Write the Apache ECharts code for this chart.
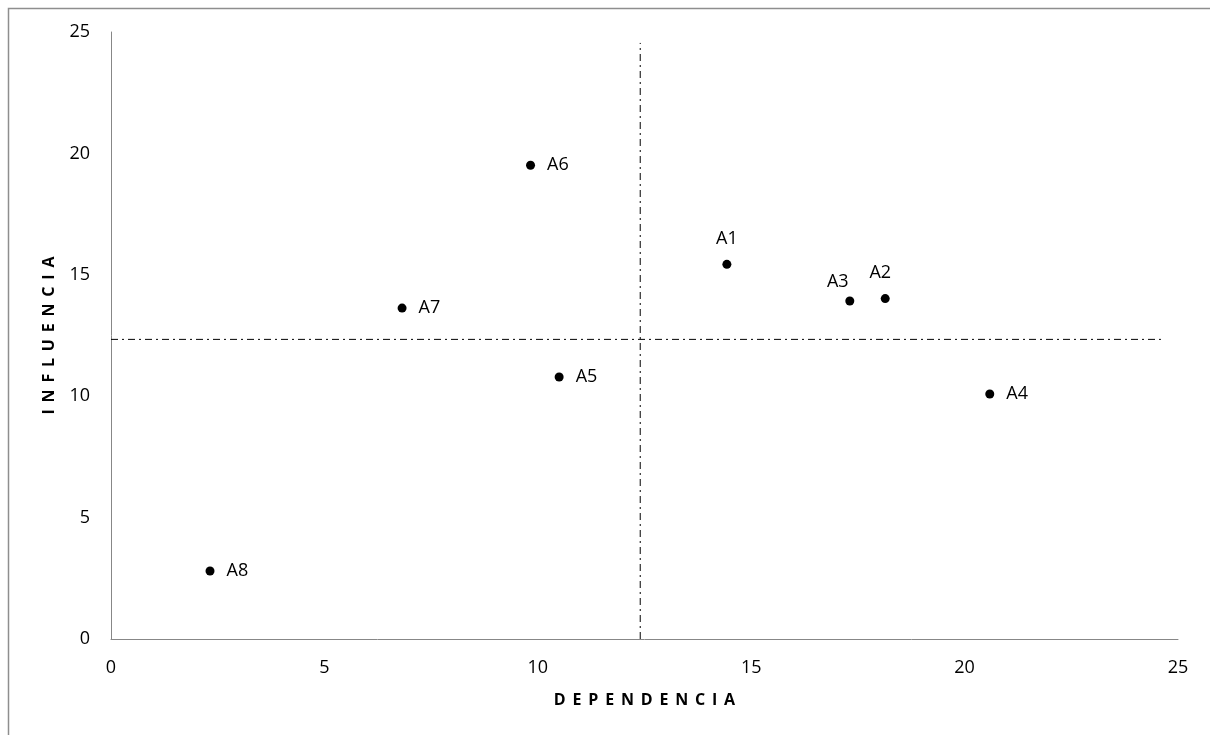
<!DOCTYPE html>
<html>
<head>
<meta charset="utf-8">
<script src="https://cdn.jsdelivr.net/npm/echarts@6/dist/echarts.min.js"></script>
<style>
html,body{margin:0;padding:0;background:#fff;}
#chart{width:1210px;height:735px;}
</style>
</head>
<body>
<div id="chart"></div>
<script>
// Data
const names = ['A1','A2','A3','A4','A5','A6','A7','A8'];
const xVals = [14.43, 18.14, 17.31, 20.59, 10.50, 9.83, 6.82, 2.32];
const yVals = [15.43, 14.02, 13.92, 10.09, 10.79, 19.51, 13.63, 2.80];
const labelPos = ['top','top','top','right','right','right','right','right'];
const labelShift = [[0,0],[-5,0],[-12,6],[0,0],[0,0],[0,0],[0,0],[0,0]];
// Reference (dash-dot) lines
const vLineX = [12.4, 12.4];
const vLineY = [0, 24.55];
const hLineX = [0, 24.6];
const hLineY = [12.34, 12.34];
const xTicks = [0,5,10,15,20,25];
const yTicks = [0,5,10,15,20,25];
const xTitle = 'DEPENDENCIA';
const yTitle = 'INFLUENCIA';

const FONT = '"Open Sans", "Noto Sans", sans-serif';
const spaced = s => s.split('').join(' \u2009');

const pts = names.map((n,i)=>({
  name:n,
  value:[xVals[i], yVals[i]],
  label:{position:labelPos[i], offset:labelShift[i]}
}));

const chart = echarts.init(document.getElementById('chart'), null, {renderer:'canvas'});
chart.setOption({
  animation:false,
  backgroundColor:'#fff',
  graphic:[{
    type:'rect', left:6, top:6,
    shape:{x:0,y:0,width:1260,height:800},
    style:{fill:'none', stroke:'#8e8e8e', lineWidth:1.5},
    silent:true
  }],
  grid:{left:111, top:32, right:32, bottom:96},
  xAxis:{
    type:'value', min:xTicks[0], max:xTicks[xTicks.length-1], interval:5,
    axisLine:{show:true, lineStyle:{color:'#878787', width:1}},
    axisTick:{show:false},
    splitLine:{show:false},
    axisLabel:{color:'#000', fontSize:18, fontFamily:FONT, margin:20},
    name:spaced(xTitle),
    nameLocation:'middle', nameGap:53,
    nameTextStyle:{color:'#000', fontSize:16, fontWeight:'bold', fontFamily:FONT}
  },
  yAxis:{
    type:'value', min:yTicks[0], max:yTicks[yTicks.length-1], interval:5,
    axisLine:{show:true, lineStyle:{color:'#878787', width:1}},
    axisTick:{show:false},
    splitLine:{show:false},
    axisLabel:{color:'#000', fontSize:18, fontFamily:FONT, margin:21},
    name:spaced(yTitle),
    nameLocation:'middle', nameGap:54,
    nameTextStyle:{color:'#000', fontSize:16, fontWeight:'bold', fontFamily:FONT}
  },
  series:[
    {
      type:'line', data:vLineX.map((x,i)=>[x, vLineY[i]]),
      symbol:'none', silent:true,
      lineStyle:{color:'#000', width:1, type:[7,4,2,4]}
    },
    {
      type:'line', data:hLineX.map((x,i)=>[x, hLineY[i]]),
      symbol:'none', silent:true,
      lineStyle:{color:'#000', width:1, type:[7,4,2,4]}
    },
    {
      type:'scatter', data:pts, symbol:'circle', symbolSize:9,
      itemStyle:{color:'#000', opacity:1},
      label:{show:true, formatter:'{b}', color:'#000', fontSize:18, fontFamily:FONT, distance:12}
    }
  ]
});
</script>
</body>
</html>
